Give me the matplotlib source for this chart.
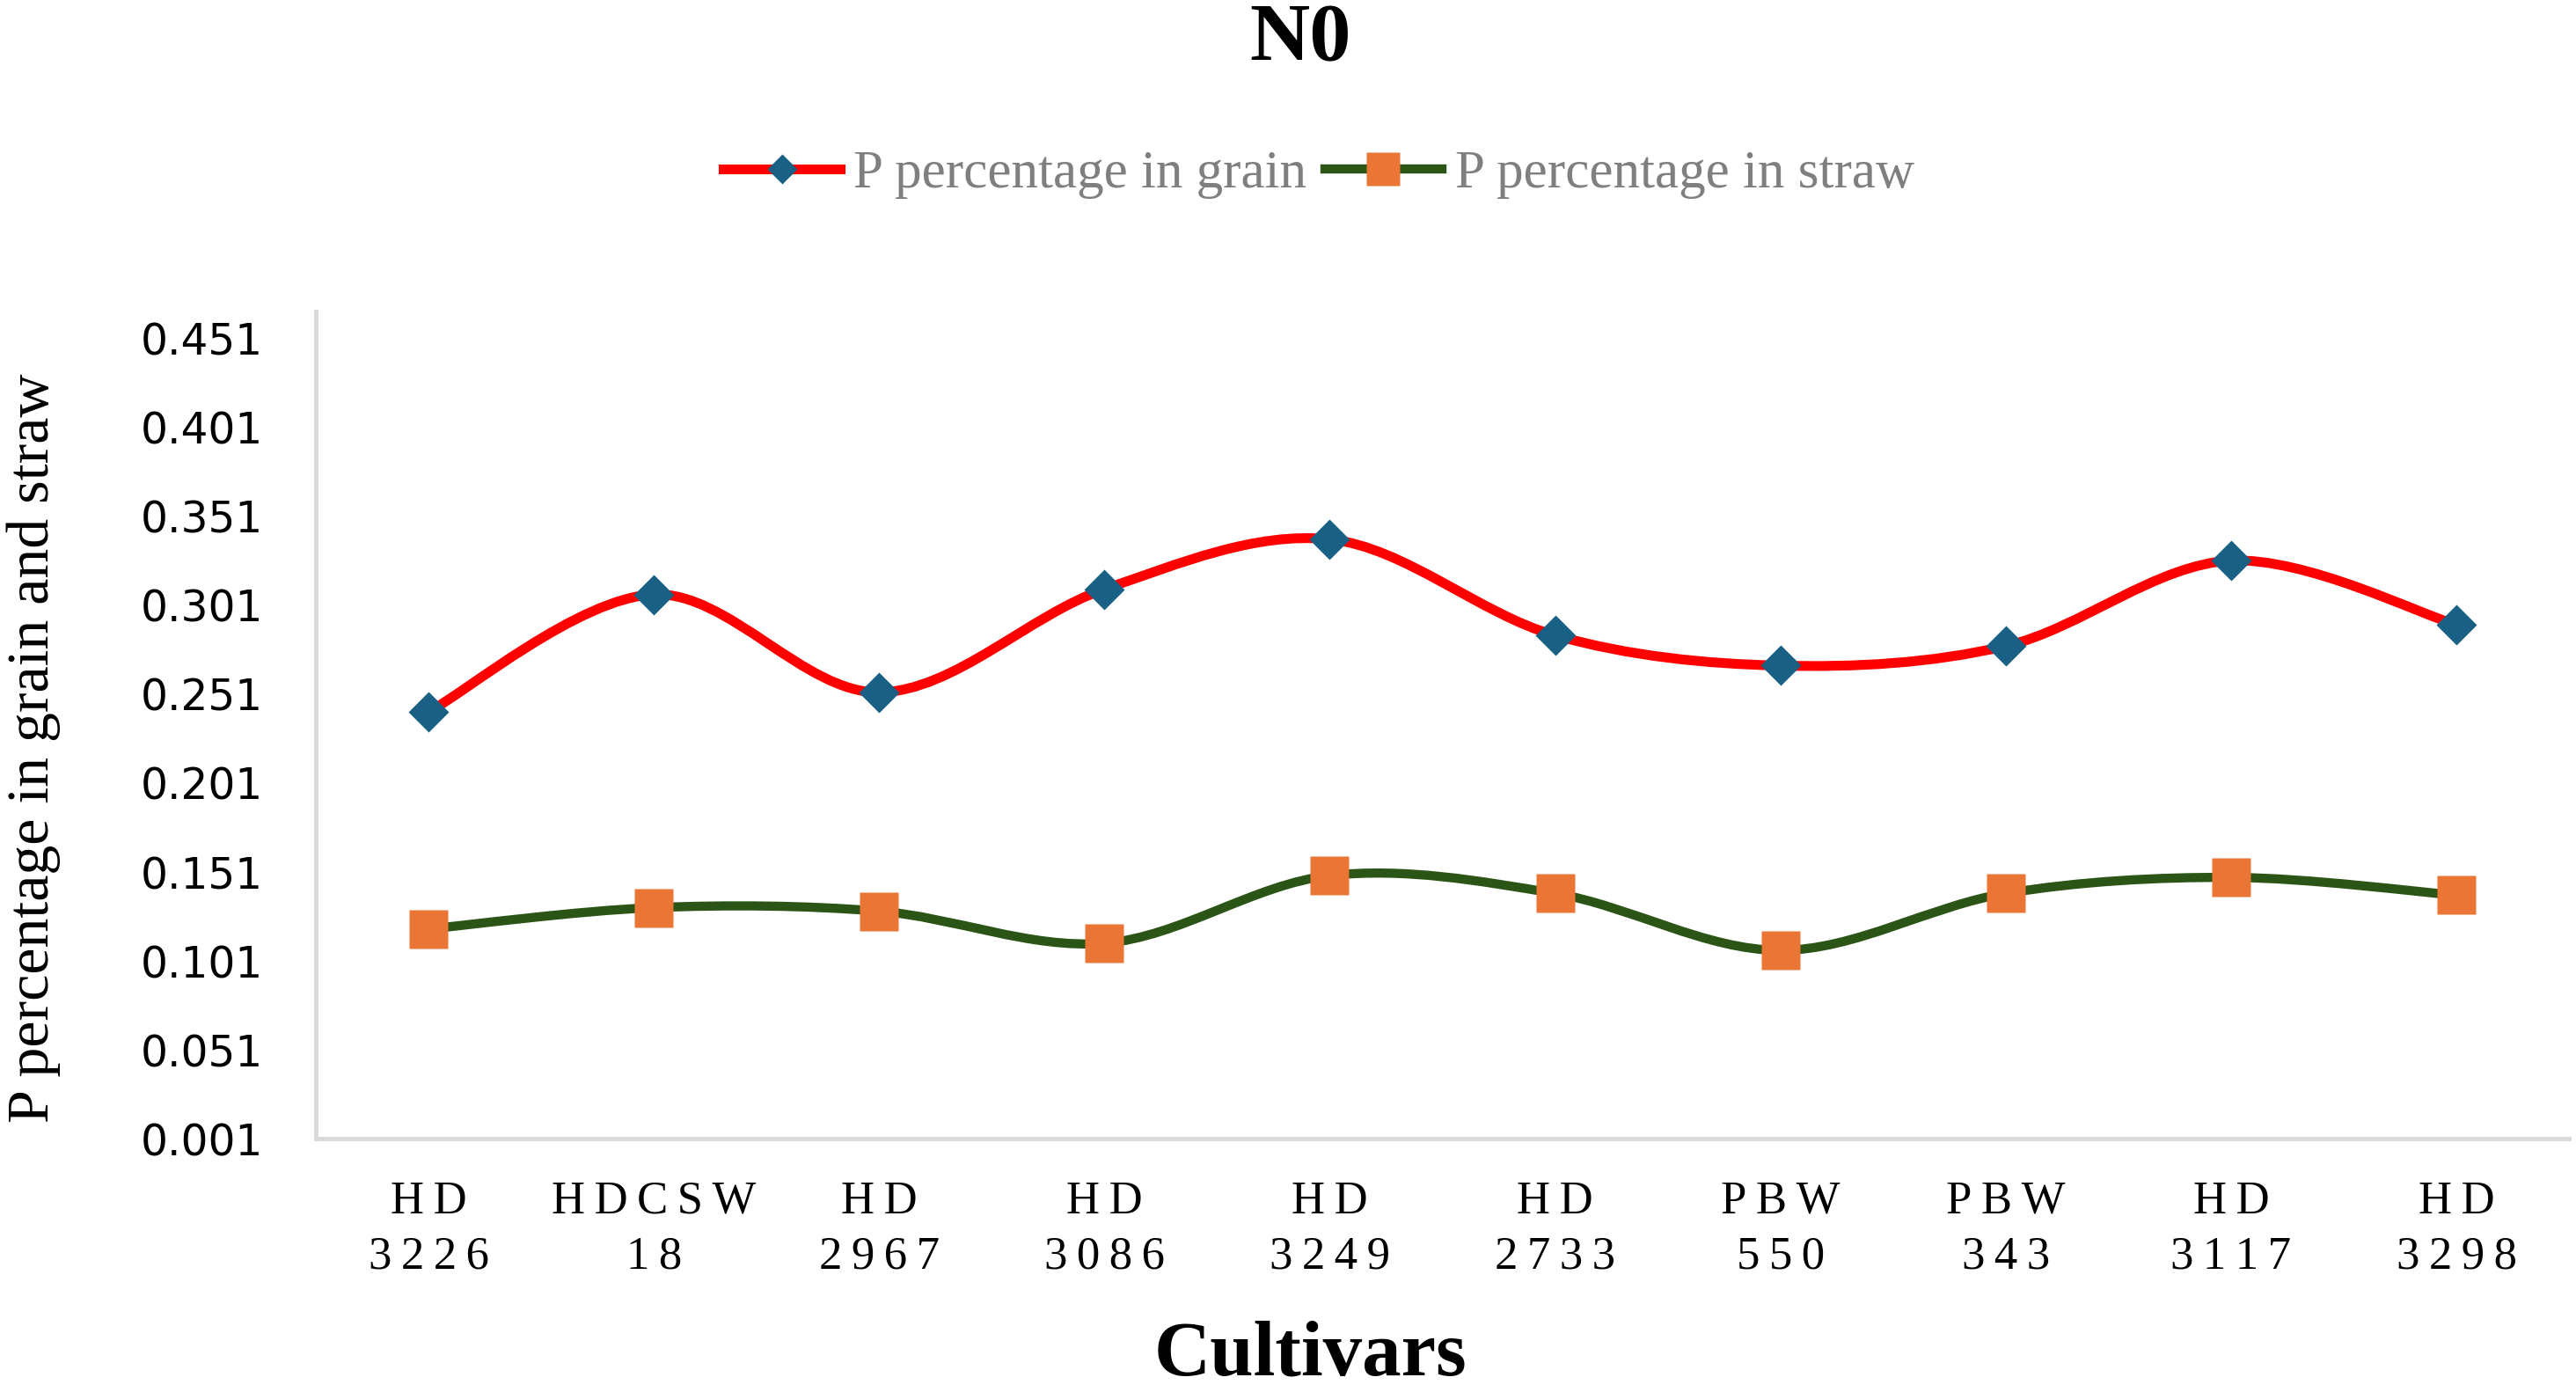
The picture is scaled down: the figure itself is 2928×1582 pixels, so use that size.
import matplotlib
matplotlib.use('Agg')
import matplotlib.pyplot as plt
from matplotlib.path import Path
from matplotlib.patches import PathPatch
from matplotlib.lines import Line2D
import numpy as np

plt.rcParams['font.family'] = ['Liberation Serif', 'DejaVu Serif']

cultivars = ['HD 3226', 'HDCSW 18', 'HD 2967', 'HD 3086', 'HD 3249',
             'HD 2733', 'PBW 550', 'PBW 343', 'HD 3117', 'HD 3298']
p_grain = [0.241, 0.307, 0.252, 0.310, 0.338, 0.284, 0.267, 0.278, 0.326, 0.290]
p_straw = [0.119, 0.131, 0.129, 0.111, 0.149, 0.139, 0.107, 0.139, 0.148, 0.138]
y_ticks = [0.001, 0.051, 0.101, 0.151, 0.201, 0.251, 0.301, 0.351, 0.401, 0.451]

RED = '#ff0000'
BLUE = '#1a6085'
GREEN = '#2b5516'
ORANGE = '#ea7534'
AXIS_GREY = '#d9d9d9'


def smooth_path(x, y):
    # excel style smoothed line: bezier segments through every point
    pts = np.column_stack([x, y]).astype(float)
    n = len(pts)
    verts = [pts[0]]
    codes = [Path.MOVETO]
    for i in range(n - 1):
        p0 = pts[max(i - 1, 0)]
        p1 = pts[i]
        p2 = pts[i + 1]
        p3 = pts[min(i + 2, n - 1)]
        verts += [p1 + (p2 - p0) / 6, p2 - (p3 - p1) / 6, p2]
        codes += [Path.CURVE4] * 3
    return Path(verts, codes)


def spaced(name):
    # cultivar name on two lines, letters a bit apart
    return '\n'.join('\u2009'.join(part) for part in name.split(' '))


fig = plt.figure(figsize=(29.28, 15.82), dpi=100)
ax = fig.add_axes([0.1226, 0.1818, 0.9973 - 0.1226, 0.7762 - 0.1818])

x = np.arange(len(cultivars))
ax.add_patch(PathPatch(smooth_path(x, p_grain), fill=False, edgecolor=RED,
                       lw=8, capstyle='round', joinstyle='round', zorder=2))
ax.add_patch(PathPatch(smooth_path(x, p_straw), fill=False, edgecolor=GREEN,
                       lw=7.5, capstyle='round', joinstyle='round', zorder=2))
ax.plot(x, p_grain, ls='none', marker='D', ms=23, color=BLUE, mec='none', zorder=3)
ax.plot(x, p_straw, ls='none', marker='s', ms=32, color=ORANGE, mec='none', zorder=3)

ax.set_xlim(-0.5, len(cultivars) - 0.5)
ax.set_ylim(0.001, 0.466)

ax.set_xticks(x, [spaced(c) for c in cultivars])
ax.set_yticks(y_ticks, ['%.3f' % v for v in y_ticks])
ax.tick_params(axis='x', length=0, pad=34, labelsize=38)
ax.tick_params(axis='y', length=0, pad=43, labelsize=35)
for lab in ax.get_xticklabels():
    lab.set_linespacing(1.4)
for lab in ax.get_yticklabels():
    lab.set_family('DejaVu Sans')

for side in ['top', 'right']:
    ax.spines[side].set_visible(False)
for side in ['left', 'bottom']:
    ax.spines[side].set_color(AXIS_GREY)
    ax.spines[side].set_linewidth(3.5)

fig.text(0.5048, 0.957, 'N0', fontsize=68, fontweight='bold',
         ha='center', va='baseline')
fig.text(0.5086, 0.0125, 'Cultivars', fontsize=64, fontweight='bold',
         ha='center', va='baseline')
fig.text(0.0132, 0.4627, 'P percentage in grain and straw', fontsize=49,
         rotation=90, ha='center', va='center')

handles = [
    Line2D([], [], color=RED, lw=8, marker='D', ms=17, mfc=BLUE, mec='none'),
    Line2D([], [], color=GREEN, lw=7.5, marker='s', ms=27, mfc=ORANGE, mec='none'),
]
leg = fig.legend(handles, ['P percentage in grain', 'P percentage in straw'],
                 loc='center', bbox_to_anchor=(0.512, 0.8748), ncol=2,
                 frameon=False, fontsize=44, handlelength=2.18,
                 handletextpad=0.25, columnspacing=0.33)
for t in leg.get_texts():
    t.set_color('#7f7f7f')

fig.savefig('out.png', dpi=100)
